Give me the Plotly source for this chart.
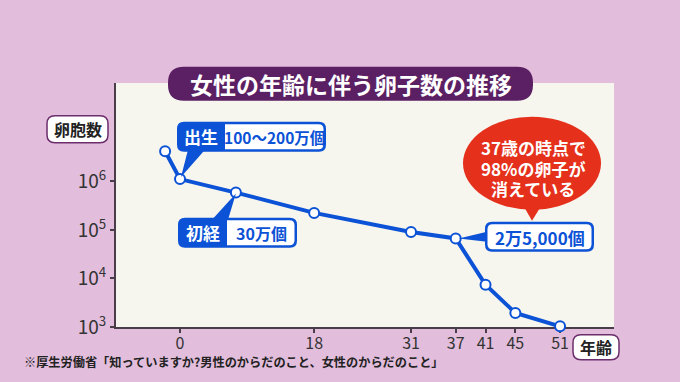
import math
import plotly.graph_objects as go

# ---- data ----
ages = [-2, 0, 7.5, 18, 31, 37, 41, 45, 51]
oocytes = [4200000, 1120000, 590000, 225000, 91000, 67000, 7400, 1950, 1030]
x_ticks = [0, 18, 31, 37, 41, 45, 51]
y_ticks = [1e3, 1e4, 1e5, 1e6]
y_ticktext = ["10<sup>3</sup>", "10<sup>4</sup>", "10<sup>5</sup>", "10<sup>6</sup>"]

title_text = "女性の年齢に伴う卵子数の推移"
y_label = "卵胞数"
x_label = "年齢"
footnote = "※厚生労働省「知っていますか?男性のからだのこと、女性のからだのこと」"
bubble_lines = ["37歳の時点で", "98%の卵子が", "消えている"]

# ---- layout geometry (pixels) ----
W, H = 680, 382
PL, PR, PT, PB = 116, 614, 83.3, 327.3
XR = [-8.59, 58.24]
YR = [2.9995, 8.03]

BLUE = "#0b52d6"
RED = "#e5301c"
PURPLE = "#5b1f63"
FONT = "Noto Sans CJK JP"


def px(x):
    return (x - PL) / (PR - PL)


def py(y):
    return (PB - y) / (PB - PT)


def data_px(age, v):
    xp = PL + (age - XR[0]) / (XR[1] - XR[0]) * (PR - PL)
    yp = PB - (math.log10(v) - YR[0]) / (YR[1] - YR[0]) * (PB - PT)
    return xp, yp


def P(x, y):
    return f"{px(x):.5f},{py(y):.5f}"


def rrect(x0, y0, x1, y1, r=(6, 6, 6, 6)):
    # r: top-left, top-right, bottom-right, bottom-left
    tl, tr, br, bl = r
    s = f"M {P(x0 + tl, y0)} L {P(x1 - tr, y0)} "
    s += f"Q {P(x1, y0)} {P(x1, y0 + tr)} L {P(x1, y1 - br)} "
    s += f"Q {P(x1, y1)} {P(x1 - br, y1)} L {P(x0 + bl, y1)} "
    s += f"Q {P(x0, y1)} {P(x0, y1 - bl)} L {P(x0, y0 + tl)} "
    s += f"Q {P(x0, y0)} {P(x0 + tl, y0)} Z"
    return s


def tri(a, b, c):
    return f"M {P(*a)} L {P(*b)} L {P(*c)} Z"


shapes = []
annots = []


def add_path(path, fill, line_color=None, line_width=0):
    shapes.append(dict(type="path", xref="paper", yref="paper", path=path,
                       fillcolor=fill, line=dict(color=line_color or fill, width=line_width),
                       layer="above"))


def add_text(x, y, text, size, color, weight="bold", align="center"):
    annots.append(dict(xref="paper", yref="paper", x=px(x), y=py(y), text=text,
                       showarrow=False, xanchor="center", yanchor="middle", align=align,
                       font=dict(family=FONT, size=size, color=color, weight=weight)))


fig = go.Figure()
fig.add_trace(go.Scatter(
    x=ages, y=oocytes, mode="lines+markers",
    line=dict(color=BLUE, width=4),
    marker=dict(symbol="circle", size=10, color="white", line=dict(color=BLUE, width=2)),
    cliponaxis=False, hoverinfo="skip", showlegend=False))

# Title box
add_path(rrect(168, 67, 533, 101, (16, 16, 16, 16)), PURPLE)
add_text(350.5, 84, title_text, 23, "white")

# Axis label boxes
add_path(rrect(47, 116, 108, 143, (8, 8, 8, 8)), "white", "#6b2d6b", 1.5)
add_text(77.5, 129.5, y_label, 16, "#222")
add_path(rrect(573, 335, 619, 360, (8, 8, 8, 8)), "white", "#6b2d6b", 1.5)
add_text(596, 347.5, x_label, 16, "#222")

# Callout: birth
bx, by = data_px(ages[1], oocytes[1])
add_path(tri((188, 150), (205, 150), (bx + 1, by - 2)), BLUE)
add_path(rrect(177, 122, 326, 152, (7, 7, 7, 7)), BLUE)
add_path(rrect(225, 124.5, 323.5, 149.5, (0, 5, 5, 0)), "white")
add_text(201, 137, "出生", 17, "white")
add_text(274.5, 137.5, "100〜200万個", 15.5, BLUE)

# Callout: menarche
mx, my = data_px(ages[2], oocytes[2])
add_path(tri((212, 220), (228, 220), (mx, my + 1)), BLUE)
add_path(rrect(178, 218, 297, 248, (7, 7, 7, 7)), BLUE)
add_path(rrect(227, 220.5, 294.5, 245.5, (0, 5, 5, 0)), "white")
add_text(202.5, 233, "初経", 17, "white")
add_text(261, 233.5, "30万個", 16, BLUE)

# Callout: 25,000 at 37
cx, cy = data_px(ages[5], oocytes[5])
add_path(tri((487, 232), (487, 242), (cx + 3, cy)), BLUE)
add_path(rrect(485, 222, 594, 252, (7, 7, 7, 7)), BLUE)
add_path(rrect(487.5, 224.5, 591.5, 249.5, (5, 5, 5, 5)), "white")
add_text(539.5, 237.5, "2万5,000個", 17, BLUE)

# Red speech bubble
shapes.append(dict(type="circle", xref="paper", yref="paper",
                   x0=px(463), x1=px(601), y0=py(210), y1=py(117),
                   fillcolor=RED, line=dict(color=RED, width=0), layer="above"))
add_path(tri((520, 200), (545, 200), (532, 221)), RED)
for i, line in enumerate(bubble_lines):
    add_text(533, 148 + i * 20.5, line, 17, "white")

# Footnote
add_text(233.5, 362, footnote, 12.2, "#222")

fig.update_layout(
    width=W, height=H,
    margin=dict(l=PL, r=W - PR, t=PT, b=H - PB, pad=0),
    paper_bgcolor="#e2bedc", plot_bgcolor="#f6f6ee",
    shapes=shapes, annotations=annots,
    font=dict(family=FONT, color="#333"),
)
fig.update_xaxes(range=XR, tickvals=x_ticks, showgrid=False, zeroline=False,
                 showline=True, linecolor="#4a3d4a", linewidth=2, layer="below traces",
                 ticks="outside", ticklen=4, tickcolor="#4a3d4a", tickwidth=1.5,
                 ticklabelstandoff=-3,
                 tickfont=dict(family=FONT, size=16, color="#333"))
fig.update_yaxes(type="log", range=YR, tickvals=y_ticks, ticktext=y_ticktext,
                 showgrid=False, zeroline=False, layer="below traces",
                 showline=True, linecolor="#4a3d4a", linewidth=2,
                 ticks="outside", ticklen=4, tickcolor="#4a3d4a", tickwidth=1.5,
                 tickfont=dict(family=FONT, size=19, color="#333"))

fig.write_html("out.html", config={"displayModeBar": False},
               post_script="document.body.style.margin='0';document.body.style.padding='0';"
                           "document.documentElement.style.background='#e2bedc';")
